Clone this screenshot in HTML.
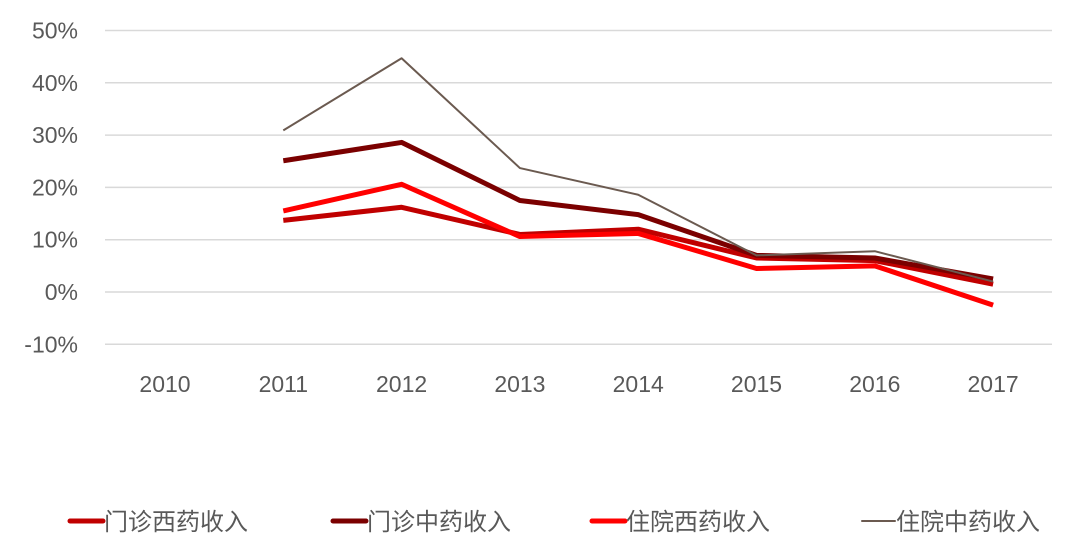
<!DOCTYPE html>
<html><head><meta charset="utf-8"><style>
body{margin:0;background:#fff;}
svg text{font-family:"Liberation Sans","Noto Sans CJK SC",sans-serif;fill:#595959;}
</style></head><body>
<svg width="1080" height="554" id="chart" xmlns="http://www.w3.org/2000/svg">
<g id="grid"></g>
<g id="yaxis"></g>
<g id="xaxis"></g>
<g id="series"></g>
<g id="legend"></g>
</svg>
<script>
const categories=["2010","2011","2012","2013","2014","2015","2016","2017"];
const yTicks=[50,40,30,20,10,0,-10];
const yTickLabels=["50%","40%","30%","20%","10%","0%","-10%"];
const seriesNames=["门诊西药收入","门诊中药收入","住院西药收入","住院中药收入"];
const mzXy=[null,13.7,16.2,11,12,6.5,6,1.5];
const mzZy=[null,25.1,28.6,17.5,14.8,7,6.5,2.5];
const zyXy=[null,15.5,20.6,10.6,11.2,4.5,5,-2.5];
const zyZy=[null,30.9,44.7,23.7,18.6,7,7.8,2];
const seriesData=[mzXy,mzZy,zyXy,zyZy];
const colors=["#c00000","#7b0000","#ff0000","#6b5a50"];
const widths=[5,5,5,2];
const NS="http://www.w3.org/2000/svg";
function x(i){return 165+i*118.3;}
function y(v){return 292-v*5.23;}
function mk(t,a,p){const e=document.createElementNS(NS,t);for(const k in a)e.setAttribute(k,a[k]);p.appendChild(e);return e;}
const grid=document.getElementById('grid'),ya=document.getElementById('yaxis'),xa=document.getElementById('xaxis'),sg=document.getElementById('series'),lg=document.getElementById('legend');
yTicks.forEach((v,i)=>{
 const l=mk('line',{x1:105,x2:1052,y1:y(v),y2:y(v),stroke:'#d9d9d9','stroke-width':1.5},grid);
 
 
 const t=mk('text',{x:78,y:y(v)+8,'text-anchor':'end','font-size':23},ya);
 t.textContent=yTickLabels[i];
 
 
});
categories.forEach((c,i)=>{
 const t=mk('text',{x:x(i),y:392,'text-anchor':'middle','font-size':23},xa);
 t.textContent=c;
 
 
});
seriesData.forEach((d,s)=>{
 const pts=[];d.forEach((v,i)=>{if(v!==null)pts.push(x(i)+','+y(v));});
 const p=mk('polyline',{points:pts.join(' '),fill:'none',stroke:colors[s],'stroke-width':widths[s],'stroke-linejoin':'round'},sg);
 
 
});
const lx=[70,333,592,862];
seriesNames.forEach((n,s)=>{
 const l=mk('line',{x1:lx[s],x2:lx[s]+33,y1:521,y2:521,stroke:colors[s],'stroke-width':widths[s],'stroke-linecap':'round'},lg);
 
 
 const t=mk('text',{x:lx[s]+34,y:530,'font-size':24},lg);
 t.textContent=n;
 
 
});
</script>
</body></html>
